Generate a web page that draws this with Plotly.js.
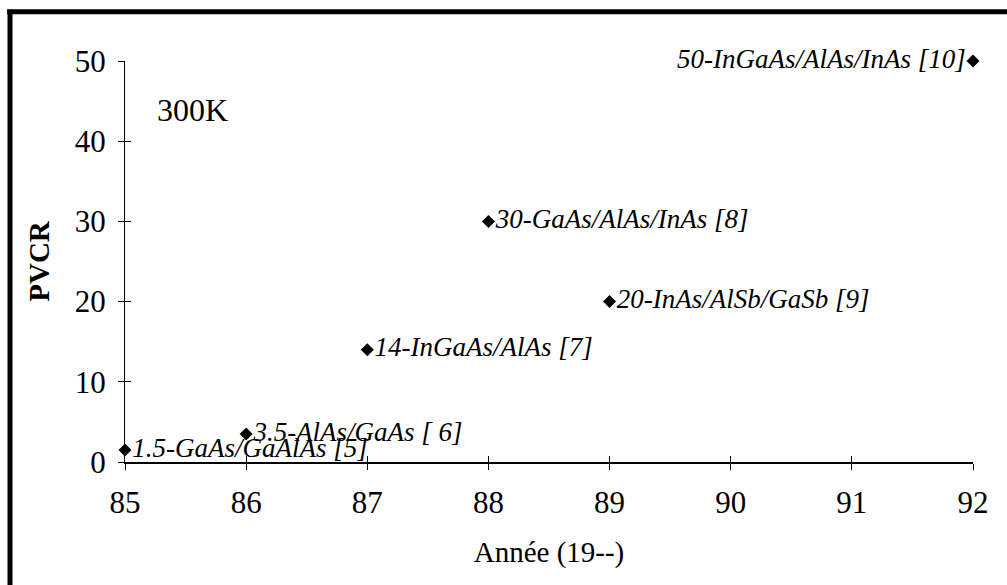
<!DOCTYPE html>
<html>
<head>
<meta charset="utf-8">
<script src="https://cdn.plot.ly/plotly-3.0.1.min.js"></script>
<style>html,body{margin:0;padding:0;background:#fff;}#chart{width:1007px;height:585px;}</style>
</head>
<body>
<div id="chart"></div>
<script>
const years = [85, 86, 87, 88, 89, 92];
const pvcr = [1.5, 3.5, 14, 30, 20, 50];
const labels = ["1.5-GaAs/GaAlAs [5]", "3.5-AlAs/GaAs [ 6]", "14-InGaAs/AlAs [7]", "30-GaAs/AlAs/InAs [8]", "20-InAs/AlSb/GaSb [9]", "50-InGaAs/AlAs/InAs [10]"];
const labelPos = ["middle right", "middle right", "middle right", "middle right", "middle right", "middle left"];
const xTicks = [85, 86, 87, 88, 89, 90, 91, 92];
const yTicks = [0, 10, 20, 30, 40, 50];

const serif = "Liberation Serif";

const trace = {
  x: years, y: pvcr, text: labels, textposition: labelPos,
  mode: "markers+text", type: "scatter",
  marker: {symbol: "diamond", size: 10, color: "#000"},
  textfont: {family: serif, size: 27, color: "#000", style: "italic"},
  cliponaxis: false, hoverinfo: "none", showlegend: false
};
const dummy = {x: [85], y: [0], xaxis: "x2", yaxis: "y2", mode: "markers", marker: {opacity: 0}, showlegend: false, hoverinfo: "none"};

const layout = {
  width: 1007, height: 585,
  margin: {l: 125, r: 34, t: 61, b: 123},
  paper_bgcolor: "#fff", plot_bgcolor: "#fff",
  font: {family: serif, color: "#000"},
  xaxis: {
    range: [85, 92], tickvals: xTicks, ticktext: xTicks.map(String),
    showgrid: false, zeroline: false, showline: true, linecolor: "#000", linewidth: 1.5,
    ticks: "outside", ticklen: 6, tickcolor: "#000", tickwidth: 1,
    tickfont: {family: serif, size: 31, color: "#000"}, ticklabelstandoff: 6,
    title: {text: "Année (19--)", font: {family: serif, size: 29, color: "#000"}, standoff: 23}
  },
  yaxis: {
    range: [0, 50], tickvals: yTicks, ticktext: yTicks.map(String),
    showgrid: false, zeroline: false, showline: true, linecolor: "#000", linewidth: 1,
    ticks: "outside", ticklen: 6, tickcolor: "#000", tickwidth: 1,
    tickfont: {family: serif, size: 31, color: "#000"}, ticklabelstandoff: 6,
    title: {text: "<b>PVCR</b>", font: {family: serif, size: 29, color: "#000"}, standoff: 16}
  },
  xaxis2: {overlaying: "x", range: [85, 92], tickvals: xTicks, showticklabels: false, ticks: "inside", ticklen: 6, tickcolor: "#000", showgrid: false, zeroline: false, showline: false, side: "bottom"},
  yaxis2: {overlaying: "y", range: [0, 50], tickvals: yTicks, showticklabels: false, ticks: "inside", ticklen: 6, tickcolor: "#000", showgrid: false, zeroline: false, showline: false, side: "left"},
  annotations: [{
    text: "300K", xref: "x", yref: "y", x: 85.25, y: 43.9, xanchor: "left", yanchor: "middle",
    showarrow: false, font: {family: serif, size: 32, color: "#000"}
  }],
  shapes: [
    {type: "line", xref: "paper", yref: "paper", x0: -0.1356, x1: -0.1356, y0: -0.35, y1: 1.128, line: {color: "#000", width: 5}},
    {type: "line", xref: "paper", yref: "paper", x0: -0.139, x1: 1.05, y0: 1.123, y1: 1.123, line: {color: "#000", width: 5}}
  ]
};
Plotly.newPlot("chart", [trace, dummy], layout, {staticPlot: true});
</script>
</body>
</html>
